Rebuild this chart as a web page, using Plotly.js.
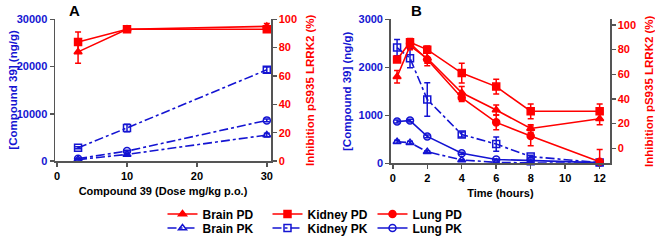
<!DOCTYPE html>
<html><head><meta charset="utf-8">
<script src="https://cdn.plot.ly/plotly-3.0.1.min.js"></script>
<style>body{margin:0}#c{width:655px;height:243px}</style></head>
<body><div id="c"></div>
<script>
// Panel A: dose response
const doseA = [3, 10, 30];
const brainPD_A = [77, 93, 95];
const brainPD_A_err = [8, 1.5, 2];
const kidneyPD_A = [84, 93, 93];
const kidneyPD_A_err = [7, 1.5, 1.5];
const brainPK_A = [300, 1400, 5500];
const brainPK_A_err = [100, 200, 400];
const kidneyPK_A = [2800, 7000, 19300];
const kidneyPK_A_err = [200, 800, 600];
const lungPK_A = [500, 2100, 8600];
const lungPK_A_err = [100, 200, 300];

// Panel B: time course
const timeB = [0.25, 1, 2, 4, 6, 8, 12];
const timeB_lung = [1, 2, 4, 6, 8, 12];
const brainPD_B = [58, 83, 73, 45, 31, 16, 24];
const brainPD_B_err = [5, 3, 4, 5, 4, 3, 5];
const kidneyPD_B = [72, 86, 80, 61, 50, 30, 30];
const kidneyPD_B_err = [2, 3, 3, 8, 6, 6, 6];
const lungPD_B = [85, 72, 41, 21, 10, -11];
const lungPD_B_err = [3, 5, 3, 6, 8, 10];
const brainPK_B = [450, 430, 240, 70, 20, 8, 5];
const brainPK_B_err = [30, 30, 20, 10, 5, 3, 2];
const kidneyPK_B = [2410, 2190, 1330, 600, 400, 140, 15];
const kidneyPK_B_err = [170, 200, 350, 50, 150, 30, 10];
const lungPK_B = [870, 890, 560, 210, 80, 55, 15];
const lungPK_B_err = [30, 30, 30, 20, 10, 10, 5];

const RED = 'rgb(255,0,0)';
const BLUE = 'rgb(20,20,210)';
const F = 'Liberation Sans, Arial, sans-serif';

function tr(x, y, err, name, color, sym, dash, xa, ya, legend, show) {
  return {
    x: x, y: y, name: name, type: 'scatter', mode: 'lines+markers',
    xaxis: xa, yaxis: ya, legend: legend, showlegend: show, cliponaxis: false,
    line: {color: color, width: 1.6, dash: dash},
    marker: {symbol: sym, size: 7, color: color, line: {color: color, width: 1.5}},
    error_y: {type: 'data', array: err, visible: true, color: color, thickness: 1.5, width: 3}
  };
}

const data = [
  tr(doseA, brainPK_A, brainPK_A_err, 'Brain PK', BLUE, 'triangle-up-open', 'dashdot', 'x', 'y', 'legend2', false),
  tr(doseA, kidneyPK_A, kidneyPK_A_err, 'Kidney PK', BLUE, 'square-open', 'dashdot', 'x', 'y', 'legend2', false),
  tr(doseA, lungPK_A, lungPK_A_err, 'Lung PK', BLUE, 'circle-open', 'dashdot', 'x', 'y', 'legend2', false),
  tr(doseA, brainPD_A, brainPD_A_err, 'Brain PD', RED, 'triangle-up', 'solid', 'x', 'y2', 'legend', false),
  tr(doseA, kidneyPD_A, kidneyPD_A_err, 'Kidney PD', RED, 'square', 'solid', 'x', 'y2', 'legend', false),

  tr(timeB, brainPD_B, brainPD_B_err, 'Brain PD', RED, 'triangle-up', 'solid', 'x2', 'y4', 'legend', true),
  tr(timeB, kidneyPD_B, kidneyPD_B_err, 'Kidney PD', RED, 'square', 'solid', 'x2', 'y4', 'legend', true),
  tr(timeB_lung, lungPD_B, lungPD_B_err, 'Lung PD', RED, 'circle', 'solid', 'x2', 'y4', 'legend', true),
  tr(timeB, brainPK_B, brainPK_B_err, 'Brain PK', BLUE, 'triangle-up-open', 'dashdot', 'x2', 'y3', 'legend2', true),
  tr(timeB, kidneyPK_B, kidneyPK_B_err, 'Kidney PK', BLUE, 'square-open', 'dashdot', 'x2', 'y3', 'legend2', true),
  tr(timeB, lungPK_B, lungPK_B_err, 'Lung PK', BLUE, 'circle-open', 'solid', 'x2', 'y3', 'legend2', true)
];

const axBase = {showgrid: false, zeroline: false, showline: true, linecolor: '#555', linewidth: 1.5,
  ticks: 'outside', ticklen: 4, tickwidth: 1.5, tickcolor: '#555', tickformat: 'd', ticklabelstandoff: 0};
const W = 655, H = 243;
const yTop = 1 - 19.3 / H;
const tf = (c) => ({family: F, weight: 'bold', size: 11, color: c});

function vtitle(text, xpx, ymid, color) {
  return {text: text, x: xpx / W, y: ymid, xref: 'paper', yref: 'paper', showarrow: false,
    textangle: -90, xanchor: 'center', yanchor: 'middle', font: {family: F, weight: 'bold', size: 11.5, color: color}};
}
const midA = 1 - 90 / H, midB = 1 - 91 / H;
const legFont = {family: F, weight: 'bold', size: 12, color: 'black'};

const layout = {
  width: W, height: H, margin: {l: 0, r: 0, t: 0, b: 0},
  paper_bgcolor: 'white', plot_bgcolor: 'white',
  font: {family: F, weight: 'bold', size: 11, color: 'black'},
  xaxis: Object.assign({}, axBase, {domain: [55 / W, 271 / W], range: [-0.3, 30.6], tickvals: [0, 10, 20, 30],
    anchor: 'y', tickfont: tf('black'),
    title: {text: 'Compound 39 (Dose mg/kg p.o.)', font: {family: F, weight: 'bold', size: 11, color: 'black'}, standoff: 6}}),
  yaxis: Object.assign({}, axBase, {domain: [1 - 161 / H, yTop], range: [0, 30000], tickvals: [0, 10000, 20000, 30000],
    anchor: 'x', tickfont: tf(BLUE)}),
  yaxis2: Object.assign({}, axBase, {domain: [1 - 161 / H, yTop], range: [0, 100], tickvals: [0, 20, 40, 60, 80, 100],
    overlaying: 'y', side: 'right', anchor: 'x', tickfont: tf(RED)}),
  xaxis2: Object.assign({}, axBase, {domain: [390.7 / W, 610 / W], range: [-0.12, 12.6], tickvals: [0, 2, 4, 6, 8, 10, 12],
    anchor: 'y3', tickfont: tf('black'),
    title: {text: 'Time (hours)', font: {family: F, weight: 'bold', size: 11, color: 'black'}, standoff: 6}}),
  yaxis3: Object.assign({}, axBase, {domain: [1 - 163.3 / H, yTop], range: [0, 3000], tickvals: [0, 1000, 2000, 3000],
    anchor: 'x2', tickfont: tf(BLUE)}),
  yaxis4: Object.assign({}, axBase, {domain: [1 - 163.3 / H, yTop], range: [-12.2, 104.6], tickvals: [0, 20, 40, 60, 80, 100],
    overlaying: 'y3', side: 'right', anchor: 'x2', tickfont: tf(RED)}),
  legend: {orientation: 'h', x: 320 / W, xanchor: 'center', y: 1 - 214 / H, yanchor: 'middle',
    font: legFont, entrywidth: 60, itemwidth: 30, bgcolor: 'rgba(0,0,0,0)', tracegroupgap: 0},
  legend2: {orientation: 'h', x: 320 / W, xanchor: 'center', y: 1 - 228 / H, yanchor: 'middle',
    font: legFont, entrywidth: 60, itemwidth: 30, bgcolor: 'rgba(0,0,0,0)', tracegroupgap: 0},
  annotations: [
    {text: 'A', x: 74 / W, y: 1 - 10.5 / H, xref: 'paper', yref: 'paper', showarrow: false, xanchor: 'center', yanchor: 'middle',
     font: {family: F, weight: 'bold', size: 15, color: 'black'}},
    {text: 'B', x: 416 / W, y: 1 - 10.5 / H, xref: 'paper', yref: 'paper', showarrow: false, xanchor: 'center', yanchor: 'middle',
     font: {family: F, weight: 'bold', size: 15, color: 'black'}},
    vtitle('[Compound 39] (ng/g)', 12.7, midA, BLUE),
    vtitle('Inhibition pS935 LRRK2 (%)', 310, midA, RED),
    vtitle('[Compound 39] (ng/g)', 347, midB, BLUE),
    vtitle('Inhibition pS935 LRRK2 (%)', 649, midB, RED)
  ]
};

Plotly.newPlot('c', data, layout, {displayModeBar: false, staticPlot: true});
</script></body></html>
